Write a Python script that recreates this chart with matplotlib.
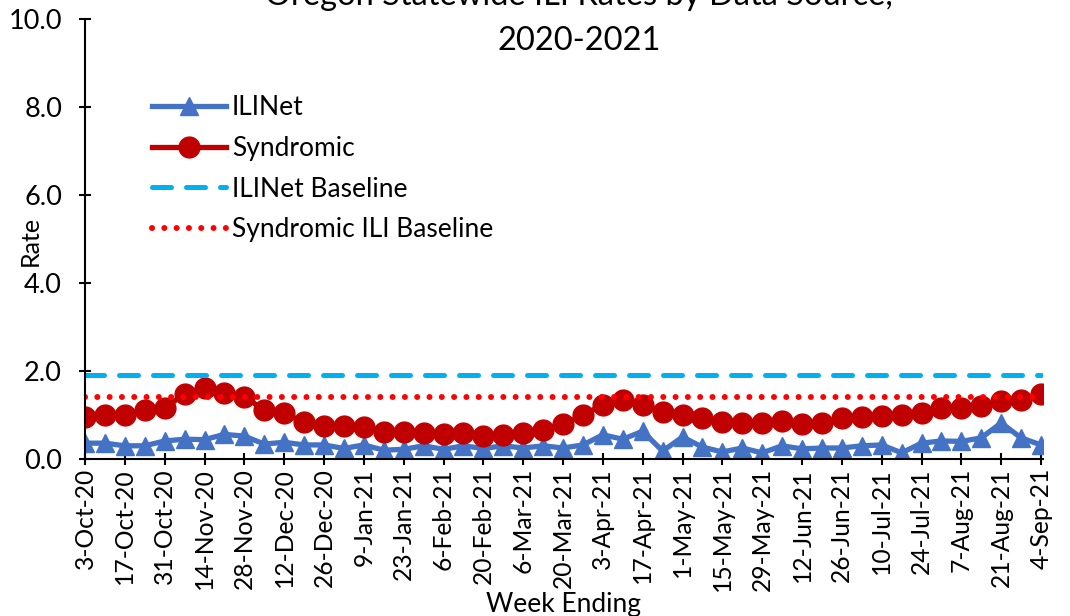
import numpy as np
import matplotlib
matplotlib.use("Agg")
import matplotlib.pyplot as plt

plt.rcParams['font.family'] = ['Lato', 'DejaVu Sans']

# weekly rates, week ending 3-Oct-20 .. 4-Sep-21
ilinet = [0.36, 0.36, 0.30, 0.30, 0.41, 0.45, 0.44, 0.56, 0.52, 0.34,
          0.38, 0.32, 0.32, 0.24, 0.32, 0.20, 0.22, 0.30, 0.22, 0.30,
          0.24, 0.30, 0.25, 0.30, 0.25, 0.32, 0.55, 0.45, 0.63, 0.18,
          0.50, 0.27, 0.16, 0.25, 0.14, 0.30, 0.23, 0.25, 0.25, 0.30,
          0.32, 0.14, 0.36, 0.41, 0.40, 0.48, 0.82, 0.48, 0.32]
syndromic = [0.95, 1.00, 1.00, 1.12, 1.17, 1.47, 1.61, 1.50, 1.42, 1.11,
             1.04, 0.83, 0.75, 0.75, 0.73, 0.62, 0.61, 0.60, 0.57, 0.60,
             0.52, 0.55, 0.60, 0.66, 0.79, 1.00, 1.23, 1.34, 1.23, 1.07,
             1.00, 0.93, 0.84, 0.82, 0.82, 0.87, 0.80, 0.82, 0.93, 0.96,
             0.98, 1.00, 1.05, 1.15, 1.15, 1.20, 1.32, 1.34, 1.48]
ilinet_baseline = 1.9
syndromic_baseline = 1.4

tick_labels = ['3-Oct-20', '17-Oct-20', '31-Oct-20', '14-Nov-20', '28-Nov-20',
               '12-Dec-20', '26-Dec-20', '9-Jan-21', '23-Jan-21', '6-Feb-21',
               '20-Feb-21', '6-Mar-21', '20-Mar-21', '3-Apr-21', '17-Apr-21',
               '1-May-21', '15-May-21', '29-May-21', '12-Jun-21', '26-Jun-21',
               '10-Jul-21', '24-Jul-21', '7-Aug-21', '21-Aug-21', '4-Sep-21']

x = np.arange(len(ilinet))

fig = plt.figure(figsize=(10.7, 6.16), dpi=100)
ax = fig.add_axes([85/1070, 157/616, 958/1070, 440/616])

ax.plot(x, ilinet, color='#4472C4', lw=3.8, marker='^', ms=13.5,
        label='ILINet', solid_joinstyle='round')
ax.plot(x, syndromic, color='#C00000', lw=3.8, marker='o', ms=15,
        label='Syndromic', solid_joinstyle='round')
ax.plot(x, [ilinet_baseline] * len(x), color='#00B0F0', lw=3.6,
        dashes=(3.8, 3.0), dash_capstyle='round', label='ILINet Baseline')
ax.plot(x, [syndromic_baseline] * len(x), color='#FF0000', lw=4.3,
        dashes=(0.01, 2.05), dash_capstyle='round', label='Syndromic ILI Baseline')

ax.set_xlim(0, 48.1)
ax.set_ylim(0, 10)
ax.set_yticks(np.arange(0, 10.1, 2))
ax.set_yticklabels(['%.1f' % v for v in np.arange(0, 10.1, 2)])
ax.set_xticks(x[::2])
ax.set_xticklabels(tick_labels, rotation=90)

for s in ['top', 'right']:
    ax.spines[s].set_visible(False)
for s in ['left', 'bottom']:
    ax.spines[s].set_linewidth(1.5)
ax.tick_params(axis='both', direction='inout', length=9, width=1.5)
ax.tick_params(axis='x', pad=2, labelsize=17.7)
ax.tick_params(axis='y', pad=12, labelsize=19.5)

ax.set_ylabel('Rate', fontsize=18)
ax.yaxis.set_label_coords(-0.057, 0.495)
ax.set_xlabel('Week Ending', fontsize=19)
ax.xaxis.set_label_coords(0.5, -0.33)
ax.xaxis.label.set_va('center')
ax.yaxis.label.set_va('center')

fig.text(0.541, 1 - 5/616, 'Oregon Statewide ILI Rates by Data Source,',
         ha='center', va='baseline', fontsize=23.5)
fig.text(0.541, 1 - 50/616, '2020-2021', ha='center', va='baseline',
         fontsize=23.5)

ax.legend(loc='upper left', bbox_to_anchor=(152/1070, 1 - 95/616),
          bbox_transform=fig.transFigure, frameon=False, fontsize=19,
          handlelength=2.8, handletextpad=0.23, labelspacing=0.6,
          borderpad=0, borderaxespad=0, numpoints=1)

fig.savefig('out.png', dpi=100)
